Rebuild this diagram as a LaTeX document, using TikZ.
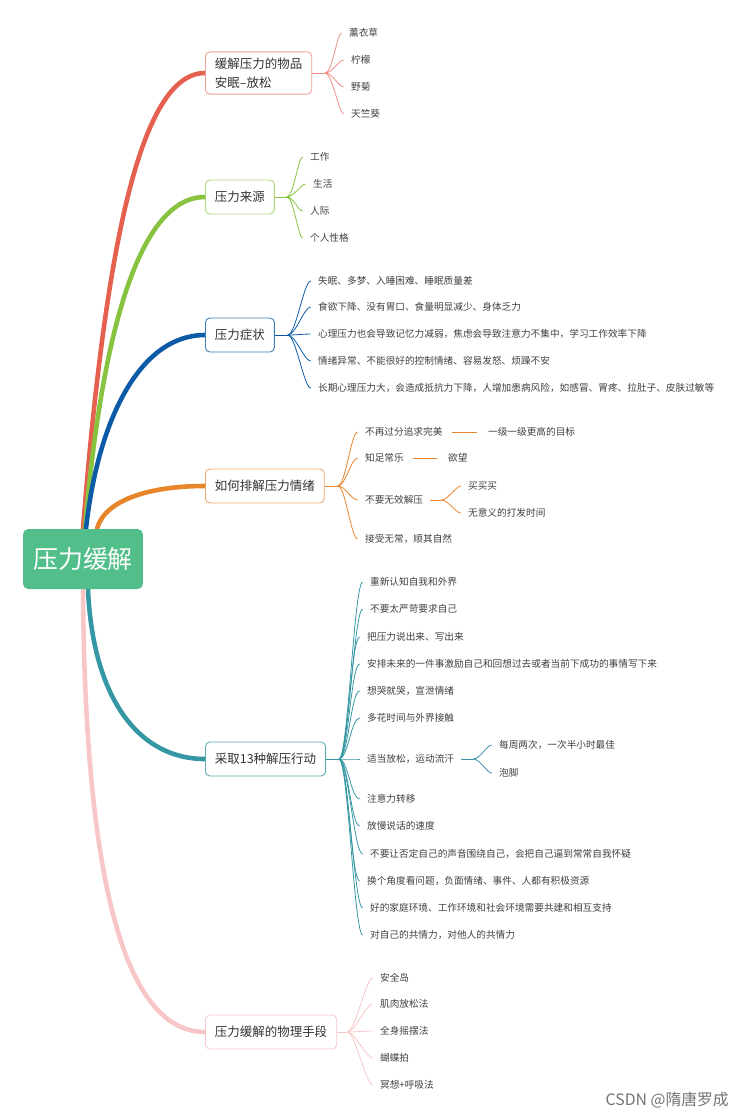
\documentclass[tikz,border=0pt]{standalone}
\usepackage{fontspec}
\setmainfont{Noto Sans CJK SC}
\usepackage{xcolor}
\usepackage{tikz}
\usetikzlibrary{calc,backgrounds}

\definecolor{rootgreen}{HTML}{52BF8B}
\definecolor{bred}{HTML}{E5604F}
\definecolor{bgreen}{HTML}{88C340}
\definecolor{bblue}{HTML}{0D5BA6}
\definecolor{borange}{HTML}{E8842A}
\definecolor{bteal}{HTML}{3597A3}
\definecolor{bpink}{HTML}{F8C6C6}

\begin{document}
\begin{tikzpicture}[x=0.02cm, y=-0.02cm,
  root/.style={rounded corners=3pt, fill=rootgreen, text=white, minimum width=2.4cm,
               minimum height=1.2cm, font=\fontsize{14.2}{16}\selectfont},
  topic/.style={rounded corners=2.5pt, draw, fill=white, line width=0.5pt, anchor=west,
                align=left, minimum height=0.68cm, inner xsep=0.19cm,
                font=\fontsize{7.1}{10.8}\selectfont, text=black!80},
  item/.style={anchor=west, inner sep=1pt, font=\fontsize{5.5}{6.5}\selectfont, text=black!75},
  branch/.style={line width=2.6pt, line cap=round},
  twig/.style={line width=0.45pt},
  leaf/.style={twig, shorten >=3pt}
]
\useasboundingbox (0,0) rectangle (750,1119);

% Root
\node[root] (root) at (83,559) {压力缓解};

% Topics
\node[topic, draw=bred!60]    (b1) at (205,73)   {缓解压力的物品\\安眠–放松};
\node[topic, draw=bgreen!70]  (b2) at (205,197)  {压力来源};
\node[topic, draw=bblue!80]   (b3) at (205,335)  {压力症状};
\node[topic, draw=borange!70] (b4) at (205,486)  {如何排解压力情绪};
\node[topic, draw=bteal!80]   (b5) at (205,759)  {采取13种解压行动};
\node[topic, draw=bpink]      (b6) at (205,1032) {压力缓解的物理手段};

% Branches
\begin{scope}[on background layer]
\draw[branch, bred]    (root.north) .. controls +(22,-279) and +(-65,0) .. (b1.west);
\draw[branch, bgreen]  ([xshift=0.04cm]root.north) .. controls +(17,-199) and +(-65,0) .. (b2.west);
\draw[branch, bblue]   ([xshift=0.06cm]root.north) .. controls +(12,-109) and +(-65,0) .. (b3.west);
\draw[branch, borange] ([xshift=0.28cm]root.north) .. controls +(8,-29) and +(-55,0) .. (b4.west);
\draw[branch, bteal]   ([xshift=0.1cm]root.south) .. controls +(5,111) and +(-65,0) .. (b5.west);
\draw[branch, bpink]   (root.south) .. controls +(2,311) and +(-75,0) .. (b6.west);
\end{scope}

% Items: 缓解压力的物品
\node[item] (r1) at (347,33)  {薰衣草};
\node[item] (r2) at (349,60)  {柠檬};
\node[item] (r3) at (349,87)  {野菊};
\node[item] (r4) at (349,114) {天竺葵};
\coordinate (j1) at ($(b1.east)+(13,0)$);
\draw[twig, bred!70] (b1.east) -- (j1);
\foreach \n in {r1,r2,r3,r4}
  \draw[leaf, bred!70] (j1) .. controls +(7,0) and +(-10,0) .. (\n.west);

% Items: 压力来源
\node[item] (g1) at (308,157) {工作};
\node[item] (g2) at (311,184) {生活};
\node[item] (g3) at (308,211) {人际};
\node[item] (g4) at (308,238) {个人性格};
\coordinate (j2) at ($(b2.east)+(12,0)$);
\draw[twig, bgreen] (b2.east) -- (j2);
\foreach \n in {g1,g2,g3,g4}
  \draw[leaf, bgreen] (j2) .. controls +(7,0) and +(-10,0) .. (\n.west);

% Items: 压力症状
\node[item] (s1) at (316,281) {失眠、多梦、入睡困难、睡眠质量差};
\node[item] (s2) at (316,307) {食欲下降、没有胃口、食量明显减少、身体乏力};
\node[item] (s3) at (316,334) {心理压力也会导致记忆力减弱，焦虑会导致注意力不集中，学习工作效率下降};
\node[item] (s4) at (316,361) {情绪异常、不能很好的控制情绪、容易发怒、烦躁不安};
\node[item] (s5) at (316,388) {长期心理压力大，会造成抵抗力下降，人增加患病风险，如感冒、胃疼、拉肚子、皮肤过敏等};
\coordinate (j3) at ($(b3.east)+(13,0)$);
\draw[twig, bblue] (b3.east) -- (j3);
\foreach \n in {s1,s2,s3,s4,s5}
  \draw[leaf, bblue] (j3) .. controls +(8,0) and +(-12,0) .. (\n.west);

% Items: 如何排解压力情绪
\node[item] (o1) at (363,432) {不再过分追求完美};
\node[item] (o2) at (363,458) {知足常乐};
\node[item] (o3) at (363,500) {不要无效解压};
\node[item] (o4) at (363,539) {接受无常，顺其自然};
\node[item] (o11) at (486,432) {一级一级更高的目标};
\node[item] (o21) at (446,458) {欲望};
\node[item] (o31) at (466,486) {买买买};
\node[item] (o32) at (466,513) {无意义的打发时间};
\coordinate (j4) at ($(b4.east)+(13,0)$);
\draw[twig, borange] (b4.east) -- (j4);
\foreach \n in {o1,o2,o3,o4}
  \draw[leaf, borange] (j4) .. controls +(8,0) and +(-12,0) .. (\n.west);
\draw[twig, borange, shorten <=4pt, shorten >=5pt] (o1.east) -- (o11.west);
\draw[twig, borange, shorten <=4pt, shorten >=5pt] (o2.east) -- (o21.west);
\coordinate (j43) at ($(o3.east)+(16,0)$);
\draw[twig, borange, shorten <=3pt] (o3.east) -- (j43);
\foreach \n in {o31,o32}
  \draw[leaf, borange] (j43) .. controls +(7,0) and +(-10,0) .. (\n.west);

% Items: 采取13种解压行动
\node[item] (a1)  at (368,582) {重新认知自我和外界};
\node[item] (a2)  at (368,609) {不要太严苛要求自己};
\node[item] (a3)  at (365,637) {把压力说出来、写出来};
\node[item] (a4)  at (365,664) {安排未来的一件事激励自己和回想过去或者当前下成功的事情写下来};
\node[item] (a5)  at (365,691) {想哭就哭，宣泄情绪};
\node[item] (a6)  at (365,718) {多花时间与外界接触};
\node[item] (a7)  at (365,759) {适当放松，运动流汗};
\node[item] (a8)  at (365,799) {注意力转移};
\node[item] (a9)  at (365,826) {放慢说话的速度};
\node[item] (a10) at (368,854) {不要让否定自己的声音围绕自己，会把自己逼到常常自我怀疑};
\node[item] (a11) at (365,881) {换个角度看问题，负面情绪、事件、人都有积极资源};
\node[item] (a12) at (368,908) {好的家庭环境、工作环境和社会环境需要共建和相互支持};
\node[item] (a13) at (368,935) {对自己的共情力，对他人的共情力};
\node[item] (a71) at (497,745) {每周两次，一次半小时最佳};
\node[item] (a72) at (497,773) {泡脚};
\coordinate (j5) at ($(b5.east)+(13,0)$);
\draw[twig, bteal] (b5.east) -- (j5);
\foreach \n in {a1,a2,a3,a4,a5,a6,a7,a8,a9,a10,a11,a12,a13}
  \draw[leaf, bteal] (j5) .. controls +(9,0) and +(-14,0) .. (\n.west);
\coordinate (j57) at ($(a7.east)+(17,0)$);
\draw[twig, bteal, shorten <=3pt] (a7.east) -- (j57);
\foreach \n in {a71,a72}
  \draw[leaf, bteal] (j57) .. controls +(7,0) and +(-10,0) .. (\n.west);

% Items: 压力缓解的物理手段
\node[item] (p1) at (378,978)  {安全岛};
\node[item] (p2) at (378,1004) {肌肉放松法};
\node[item] (p3) at (378,1031) {全身摇摆法};
\node[item] (p4) at (378,1058) {蝴蝶拍};
\node[item] (p5) at (378,1085) {冥想+呼吸法};
\coordinate (j6) at ($(b6.east)+(10,0)$);
\draw[twig, bpink] (b6.east) -- (j6);
\foreach \n in {p1,p2,p3,p4,p5}
  \draw[leaf, bpink] (j6) .. controls +(8,0) and +(-12,0) .. (\n.west);

% Watermark
\node[anchor=east, text=black!55, font=\fontsize{9}{10}\selectfont] (mark) at (735,1100) {CSDN @隋唐罗成};

\end{tikzpicture}
\end{document}
